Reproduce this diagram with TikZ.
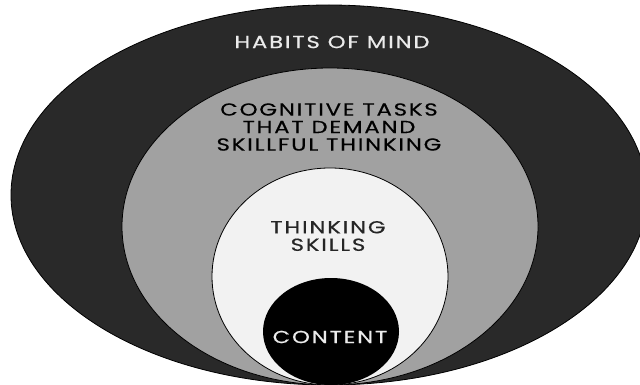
\documentclass[tikz,border=0pt]{standalone}
\usepackage{graphicx}
\usepackage{fontspec}
\setmainfont{Poppins}
\newfontfamily\lblfont[LetterSpace=8, FakeBold=0.45]{Poppins}
\newcommand\widetxt[1]{\scalebox{1.3}[1]{#1}}
\begin{document}
\begin{tikzpicture}[x=1pt,y=-1pt,
  ring/.style={draw=black, line width=0.8pt},
  lbl/.style={align=center, font=\lblfont\fontsize{17.5}{17.5}\selectfont, inner sep=0pt}]
\useasboundingbox (0,0) rectangle (640,385);
\clip (0,0) rectangle (640,385);
\fill[white] (0,0) rectangle (640,385);
% outer: habits of mind
\draw[ring, fill=black!84] (329,195) ellipse [x radius=318pt, y radius=190pt];
% cognitive tasks
\draw[ring, fill=black!37] (330,226.5) ellipse [x radius=208pt, y radius=158.5pt];
% thinking skills
\draw[ring, fill=black!5] (330,276.5) ellipse [x radius=118pt, y radius=108.5pt];
% content
\fill[black] (331,331.5) ellipse [x radius=68pt, y radius=53.5pt];
\node[lbl, text=white!92!black] (habits) at (332,42) {\widetxt{HABITS OF MIND}};
\node[lbl, text=black] (tasks) at (329,127) {\widetxt{COGNITIVE TASKS}\\\widetxt{THAT DEMAND}\\\widetxt{SKILLFUL THINKING}};
\node[lbl, text=black!85] (skills) at (328,236) {\widetxt{THINKING}\\\widetxt{SKILLS}};
\node[lbl, text=white!92!black] (content) at (330,337) {\widetxt{CONTENT}};
\end{tikzpicture}
\end{document}
